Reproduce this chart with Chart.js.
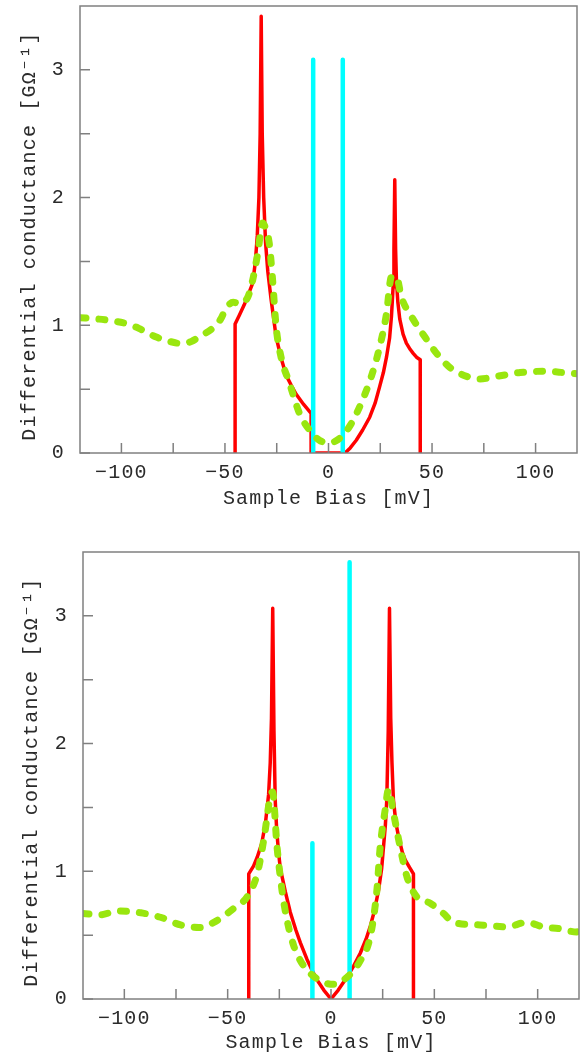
<!doctype html>
<html><head>
<script src="https://cdn.jsdelivr.net/npm/chart.js"></script>
<style type="text/css">
body { margin: 0; background: #fff; }
canvas { position: absolute; left: 0; }
</style>
</head>
<body>
<canvas id="topChart" width="585" height="527" style="top:0"></canvas>
<canvas id="bottomChart" width="585" height="528" style="top:527px"></canvas>

<script type="text/javascript">
// axis ticks (minor every 25 mV / 0.5, labels on the majors)
var biasTicks = [-100, -75, -50, -25, 0, 25, 50, 75, 100];
var biasLabels = [-100, -50, 0, 50, 100];
var condTicks = [0, 0.5, 1, 1.5, 2, 2.5, 3];
var condLabels = [0, 1, 2, 3];

// upper panel
var topRedBias = [-45.1, -45.1, -43, -40.7, -38.5, -36.6, -35.3, -34.4, -33.6, -33.0, -32.5, -32.0, -31.3, -30.4, -29.3, -27.7, -25.3, -23, -20.5, -18, -15.6, -12, -8.4, -8.4, 8, 10.5, 13.4, 16.5, 19.9, 22.5, 24.7, 26.5, 28, 29.5, 30.4, 31.2, 31.6, 32, 32.4, 32.8, 33.5, 34.4, 36, 37.6, 39.5, 40.9, 42.5, 44.3, 44.3];
var topRedG = [0, 1.01, 1.08, 1.16, 1.25, 1.33, 1.5, 1.7, 2.0, 2.5, 3.42, 2.5, 2.0, 1.65, 1.42, 1.2, 0.91, 0.75, 0.61, 0.53, 0.46, 0.38, 0.31, 0, 0, 0.04, 0.1, 0.18, 0.28, 0.39, 0.52, 0.63, 0.75, 0.9, 1.07, 1.3, 1.6, 2.14, 1.6, 1.35, 1.18, 1.05, 0.93, 0.86, 0.81, 0.78, 0.75, 0.73, 0];
var topCyanBias = [-7.4, 6.9];
var topCyanG = [3.08, 3.08];
var topGreenBias = [-120, -112, -104.5, -97, -91.6, -83.5, -77, -71.4, -66, -62.5, -56, -52, -49.6, -46, -43, -39, -36.6, -34.2, -31.8, -30, -28.6, -27, -25.3, -22.9, -18.9, -14, -9.2, -4.4, 0.5, 6.1, 11, 15.8, 20.7, 24.7, 28, 30.4, 32.8, 35.2, 40, 46.5, 52.2, 58.6, 66.7, 73.2, 81.2, 92.5, 103.8, 113.5, 120];
var topGreenG = [1.06, 1.05, 1.035, 1.01, 0.976, 0.91, 0.875, 0.858, 0.875, 0.91, 0.976, 1.05, 1.13, 1.18, 1.17, 1.22, 1.355, 1.56, 1.80, 1.74, 1.64, 1.355, 0.99, 0.75, 0.55, 0.31, 0.18, 0.10, 0.08, 0.125, 0.23, 0.39, 0.6, 0.83, 1.09, 1.38, 1.38, 1.22, 1.07, 0.91, 0.78, 0.67, 0.60, 0.58, 0.60, 0.63, 0.64, 0.63, 0.62];

// lower panel
var botRedBias = [-39.8, -39.8, -37.5, -35.7, -33.5, -31.7, -30.2, -29.4, -28.8, -28.2, -27.6, -27, -26.3, -25.4, -24.5, -22.1, -19.7, -17, -14.8, -11.6, -9, -6.8, -3.5, 0, 3.5, 7.7, 11, 14.2, 17, 19, 21, 23, 24.5, 25.4, 26.3, 27, 27.7, 28.3, 28.9, 29.5, 30.2, 31.4, 32.7, 34.5, 35.9, 38, 39.9, 39.9];
var botRedG = [0, 0.98, 1.04, 1.11, 1.22, 1.38, 1.6, 1.85, 2.2, 3.06, 2.1, 1.56, 1.33, 1.15, 1.02, 0.84, 0.68, 0.54, 0.44, 0.31, 0.22, 0.15, 0.07, 0, 0.07, 0.17, 0.26, 0.36, 0.47, 0.57, 0.69, 0.85, 1.02, 1.19, 1.36, 1.56, 2.1, 3.06, 2.2, 1.85, 1.56, 1.38, 1.27, 1.15, 1.09, 1.03, 0.98, 0];
var botCyanBias = [-9, 9];
var botCyanG = [1.22, 3.42];
var botGreenBias = [-120, -111.4, -103.4, -92.1, -82.5, -72.8, -64, -56.7, -47, -40.6, -35.7, -32.5, -29.3, -28.3, -26.1, -23.7, -21.3, -18.1, -14.8, -10, -3.6, 1.3, 7.7, 14.2, 19, 22.2, 23.8, 26.2, 27.8, 30.2, 32.7, 36.7, 41.5, 48, 54.4, 59.2, 72.1, 85, 94.7, 102.7, 110.8, 118.8, 120];
var botGreenG = [0.67, 0.66, 0.69, 0.675, 0.64, 0.58, 0.56, 0.60, 0.71, 0.80, 0.98, 1.25, 1.59, 1.62, 1.19, 0.85, 0.62, 0.42, 0.30, 0.20, 0.13, 0.115, 0.17, 0.30, 0.49, 0.85, 1.19, 1.48, 1.64, 1.46, 1.25, 0.96, 0.80, 0.75, 0.67, 0.60, 0.58, 0.565, 0.60, 0.565, 0.55, 0.525, 0.535];

var textFont = { family: "'Liberation Mono', 'DejaVu Sans Mono', monospace", size: 20, lineHeight: 1.2 };
var textColor = '#2a2a2a';

function pairs(xs, ys) {
    return xs.map(function(x, i) { return { x: x, y: ys[i] }; });
}

// vertical bars from 0 up to each value, gaps in between
function bars(xs, ys) {
    var out = [];
    xs.forEach(function(x, i) {
        out.push({ x: x, y: 0 }, { x: x, y: ys[i] }, { x: x, y: null });
    });
    return out;
}

// wide mono lettering
var spacing = {
    id: 'spacing',
    beforeUpdate: function(chart) { chart.ctx.letterSpacing = '1.2px'; },
    beforeDraw: function(chart) { chart.ctx.letterSpacing = '1.2px'; }
};

// box round the plot, ticks pointing inward
var frame = {
    id: 'frame',
    afterDatasetsDraw: function(chart) {
        var ctx = chart.ctx, a = chart.chartArea;
        var sx = chart.scales.x, sy = chart.scales.y;
        ctx.save();
        ctx.strokeStyle = '#808080';
        ctx.lineWidth = 1.5;
        ctx.strokeRect(a.left, a.top, a.right - a.left, a.bottom - a.top);
        ctx.beginPath();
        biasTicks.forEach(function(v) {
            var px = sx.getPixelForValue(v);
            ctx.moveTo(px, a.bottom);
            ctx.lineTo(px, a.bottom - 10);
        });
        condTicks.forEach(function(v) {
            var py = sy.getPixelForValue(v);
            ctx.moveTo(a.left, py);
            ctx.lineTo(a.left + 10, py);
        });
        ctx.stroke();
        ctx.restore();
    }
};

function makeChart(id, d, lay) {
    return new Chart(document.getElementById(id), {
        type: 'line',
        data: {
            datasets: [{
                data: pairs(d.greenX, d.greenY),
                borderColor: '#99e60f',
                borderWidth: 7,
                borderDash: [6, 13],
                borderCapStyle: 'round',
                cubicInterpolationMode: 'monotone',
                pointRadius: 0,
                order: 1
            }, {
                data: bars(d.cyanX, d.cyanY),
                borderColor: '#00ffff',
                borderWidth: 4.5,
                borderCapStyle: 'round',
                spanGaps: false,
                pointRadius: 0,
                order: 2
            }, {
                data: pairs(d.redX, d.redY),
                borderColor: '#ff0000',
                borderWidth: 3.5,
                borderJoinStyle: 'round',
                tension: 0,
                pointRadius: 0,
                order: 3
            }]
        },
        options: {
            responsive: false,
            animation: false,
            layout: { padding: lay.padding },
            plugins: { legend: { display: false }, tooltip: { enabled: false } },
            scales: {
                x: {
                    type: 'linear',
                    min: -120,
                    max: 120,
                    afterBuildTicks: function(s) { s.ticks = biasTicks.map(function(v) { return { value: v }; }); },
                    afterFit: function(s) { s.height = lay.xHeight; s.paddingLeft = 0; s.paddingRight = 0; },
                    grid: { display: false, drawTicks: false, tickLength: 0 },
                    border: { display: false },
                    ticks: {
                        autoSkip: false,
                        maxRotation: 0,
                        padding: 8,
                        color: textColor,
                        font: textFont,
                        callback: function(v) { return biasLabels.indexOf(v) >= 0 ? String(v).replace('-', '\u2212') : ''; }
                    },
                    title: {
                        display: true,
                        text: 'Sample Bias [mV]',
                        color: textColor,
                        font: textFont,
                        padding: { top: 0, bottom: 0 }
                    }
                },
                y: {
                    type: 'linear',
                    min: 0,
                    max: 3.5,
                    afterBuildTicks: function(s) { s.ticks = condTicks.map(function(v) { return { value: v }; }); },
                    afterFit: function(s) { s.width = lay.yWidth; s.paddingTop = 0; s.paddingBottom = 0; },
                    grid: { display: false, drawTicks: false, tickLength: 0 },
                    border: { display: false },
                    ticks: {
                        autoSkip: false,
                        padding: 15,
                        color: textColor,
                        font: textFont,
                        callback: function(v) { return condLabels.indexOf(v) >= 0 ? String(v) : ''; }
                    },
                    title: {
                        display: true,
                        text: 'Differential conductance [G\u03a9\u207b\u00b9]\u00a0',
                        color: textColor,
                        font: textFont,
                        padding: { top: lay.yTitlePad, bottom: 0 }
                    }
                }
            }
        },
        plugins: [spacing, frame]
    });
}

makeChart('topChart', {
    redX: topRedBias, redY: topRedG,
    cyanX: topCyanBias, cyanY: topCyanG,
    greenX: topGreenBias, greenY: topGreenG
}, { padding: { top: 6, right: 8, bottom: 16, left: 0 }, yWidth: 80, xHeight: 58, yTitlePad: 18 });

makeChart('bottomChart', {
    redX: botRedBias, redY: botRedG,
    cyanX: botCyanBias, cyanY: botCyanG,
    greenX: botGreenBias, greenY: botGreenG
}, { padding: { top: 25, right: 6, bottom: 0, left: 0 }, yWidth: 83, xHeight: 56, yTitlePad: 20 });
</script>
</body>
</html>
